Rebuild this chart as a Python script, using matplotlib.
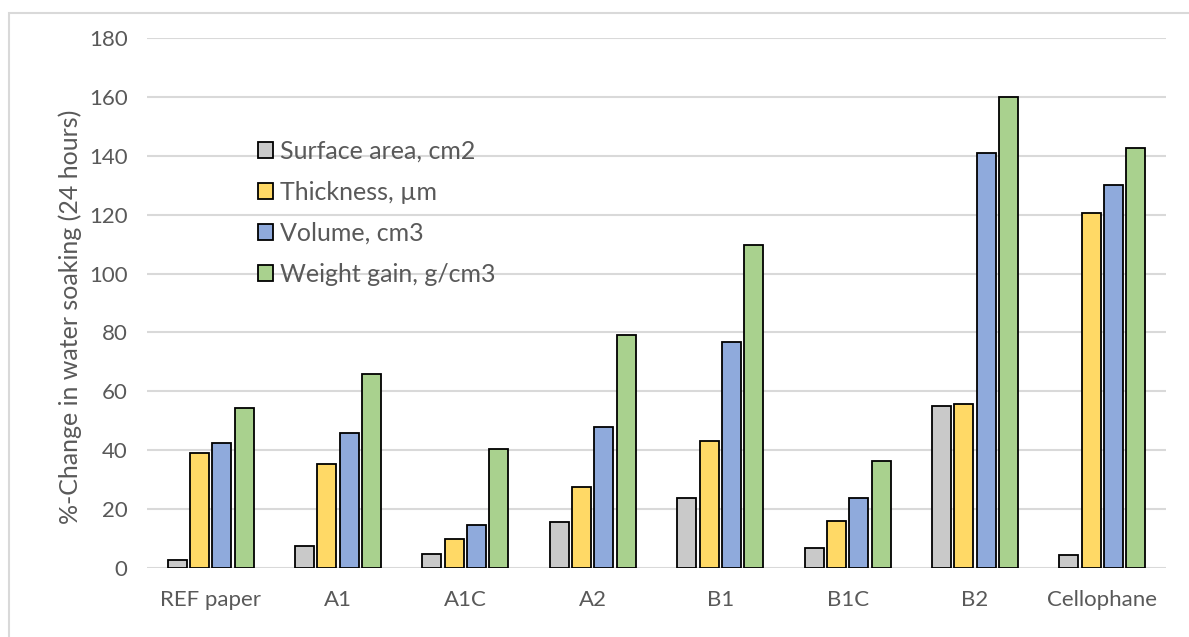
import numpy as np
import matplotlib.pyplot as plt
from matplotlib.patches import Rectangle

# data
samples = ["REF paper", "A1", "A1C", "A2", "B1", "B1C", "B2", "Cellophane"]
surface_area = [2.7, 7.5, 4.6, 15.6, 23.7, 6.7, 54.9, 4.4]
thickness = [38.9, 35.3, 9.8, 27.6, 43.1, 15.9, 55.7, 120.5]
volume = [42.6, 46.0, 14.7, 47.9, 76.6, 23.7, 140.8, 130.2]
weight_gain = [54.4, 65.8, 40.3, 79.3, 109.6, 36.5, 159.9, 142.7]

series = [
    ("Surface area, cm2", surface_area, "#C9C9C9"),
    ("Thickness, \u00b5m", thickness, "#FFD966"),
    ("Volume, cm3", volume, "#8FAADC"),
    ("Weight gain, g/cm3", weight_gain, "#A9D18E"),
]

plt.rcParams['font.family'] = ['Lato', 'DejaVu Sans']
txt = "#595959"

fig = plt.figure(figsize=(11.89, 6.37), dpi=100)
ax = fig.add_axes([0.1236, 0.1083, 0.8571, 0.832])

# outer chart frame
fig.patches.append(Rectangle((9/1189, -0.1), 1.1, (637-13)/637 + 0.1, transform=fig.transFigure,
                             fill=False, edgecolor="#D9D9D9", linewidth=1.5))

x = np.arange(len(samples))
w = 0.149
step = 0.175
for i, (name, vals, col) in enumerate(series):
    ax.bar(x + (i - 1.5) * step, vals, width=w, color=col, edgecolor="black",
           linewidth=1.3, label=name, zorder=3)

ax.set_xlim(-0.5, len(samples) - 0.5)
ax.set_ylim(0, 180)
ax.set_yticks(np.arange(0, 181, 20))
ax.set_xticks(x)
ax.set_xticklabels(samples)
ax.yaxis.grid(True, color="#D9D9D9", linewidth=1.5, zorder=0)
for s in ax.spines.values():
    s.set_visible(False)
ax.tick_params(length=0, labelsize=16, colors=txt)
ax.tick_params(axis='y', pad=14)
ax.tick_params(axis='x', pad=16)
ax.set_ylabel("%-Change in water soaking (24 hours)", fontsize=18, color=txt)
ax.yaxis.set_label_coords(-0.064, 0.474)

leg = ax.legend(loc="upper left", bbox_to_anchor=(245/1189, (637-127)/637), bbox_transform=fig.transFigure,
                frameon=False, fontsize=18, handlelength=0.6, handleheight=0.6,
                handletextpad=0.3, labelspacing=0.72, borderpad=0)
for t in leg.get_texts():
    t.set_color(txt)

fig.savefig("out.png", dpi=100)
